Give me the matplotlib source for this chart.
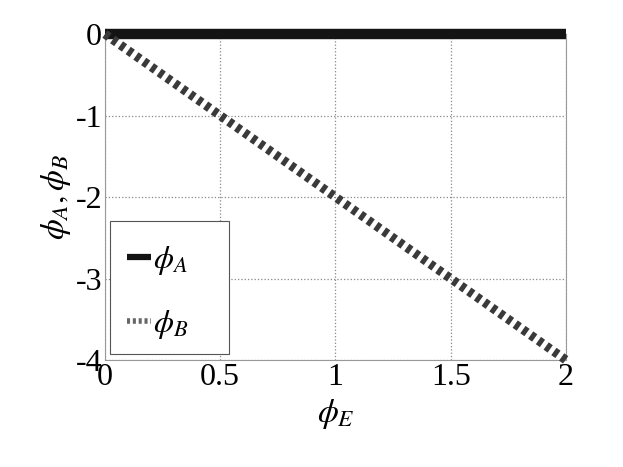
import numpy as np
import matplotlib
matplotlib.use("Agg")
import matplotlib.pyplot as plt
from matplotlib.patches import Rectangle

# data
phi_e = [0.0, 0.5, 1.0, 1.5, 2.0]
phi_a = [0.0, 0.0, 0.0, 0.0, 0.0]
phi_b = [0.0, -1.0, -2.0, -3.0, -4.0]
xticks = [0, 0.5, 1, 1.5, 2]
yticks = [0, -1, -2, -3, -4]

plt.rcParams['font.family'] = ['Liberation Serif', 'DejaVu Serif']
plt.rcParams['mathtext.fontset'] = 'stix'

fig = plt.figure(figsize=(6.23, 4.67), dpi=100)
ax = fig.add_axes([0.1685, 0.229, 0.74, 0.698])

ax.plot(phi_e, phi_a, color='#141414', lw=7.5, solid_capstyle='butt', label=r'$\phi_A$',
        zorder=3, clip_on=False)
ax.plot(phi_e, phi_b, color='#3a3a3a', lw=6.5, linestyle=(0, (0.55, 0.5)),
        label=r'$\phi_B$', zorder=3, clip_on=False)

ax.set_xlim(0, 2)
ax.set_ylim(-4, 0)
ax.set_xticks(xticks)
ax.set_xticklabels(['0', '0.5', '1', '1.5', '2'])
ax.set_yticks(yticks)
ax.set_yticklabels(['0', '-1', '-2', '-3', '-4'])
ax.tick_params(length=0, labelsize=23, pad=2)
ax.grid(True, linestyle=':', color='#888888', lw=0.9)
for s in ax.spines.values():
    s.set_color('#999999')
    s.set_linewidth(0.8)

ax.set_xlabel(r'$\phi_E$', fontsize=24, labelpad=4)
ax.set_ylabel(r'$\phi_A,\phi_B$', fontsize=24, labelpad=2)

# MATLAB-style legend: box wider/taller than its content
ax.add_patch(Rectangle((0.011, 0.018), 0.258, 0.408, transform=ax.transAxes,
                       facecolor='white', edgecolor='#555555', lw=0.8, zorder=4))
leg = ax.legend(loc='center left', bbox_to_anchor=(0.0, 0.207), fontsize=23,
                handlelength=0.75, handletextpad=0.05, labelspacing=0.95,
                borderpad=0.2, frameon=False)
leg.set_zorder(5)
lines = leg.get_lines()
lines[0].set_linewidth(4.5)
lines[1].set_linewidth(4)
lines[1].set_color('#666666')

fig.savefig('out.png', dpi=100)
